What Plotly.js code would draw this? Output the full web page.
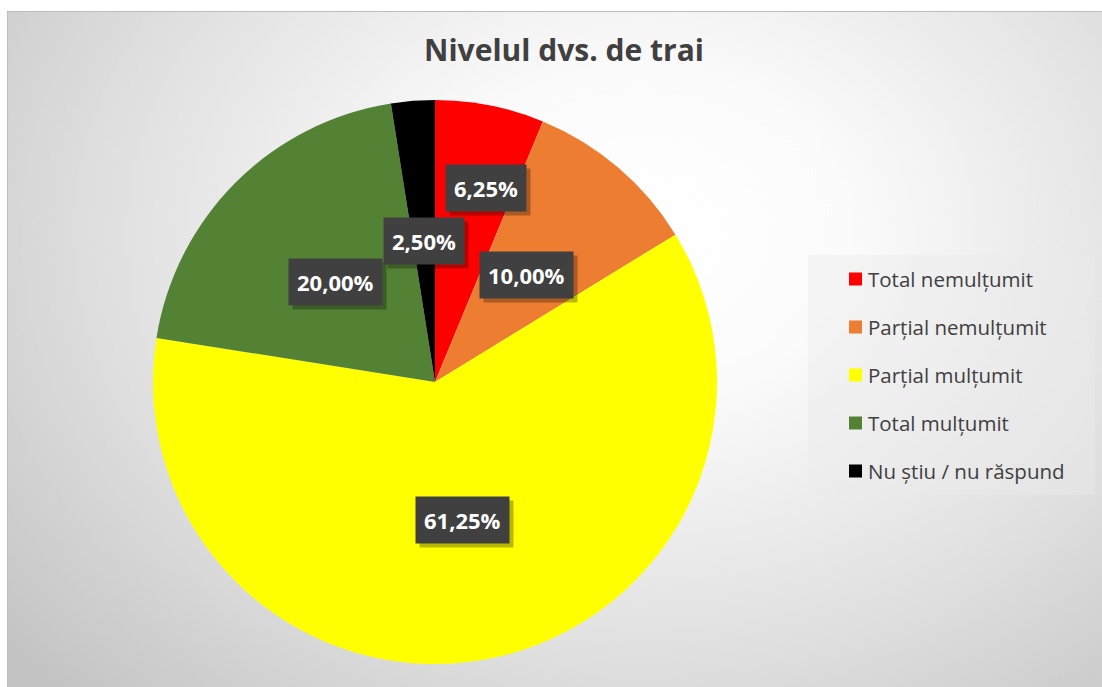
<!DOCTYPE html>
<html>
<head>
<meta charset="utf-8">
<script src="https://cdn.plot.ly/plotly-3.0.1.min.js"></script>
<style>
  html, body { margin: 0; padding: 0; background: #ffffff; }
  #bg { position: absolute; left: 7px; top: 11px; width: 1095px; height: 676px;
        background: radial-gradient(ellipse 75% 95% at 58% 33%, #ffffff 0%, #fbfbfb 25%, #e0e0e0 65%, #c4c4c4 100%);
        border-top: 1px solid #bdbdbd; border-left: 1px solid #bdbdbd; box-sizing: border-box; }
  #chart { position: absolute; left: 0; top: 0; width: 1102px; height: 687px; }
</style>
</head>
<body>
<div id="bg"></div>
<div id="chart"></div>
<script>
// ---- data ----
const chartTitle = 'Nivelul dvs. de trai';
const categories = ['Total nemulțumit', 'Parțial nemulțumit', 'Parțial mulțumit', 'Total mulțumit', 'Nu știu / nu răspund'];
const values = [6.25, 10.00, 61.25, 20.00, 2.50];
const colors = ['#FF0000', '#ED7D31', '#FFFF00', '#548235', '#000000'];

// ---- layout constants (pixels) ----
const W = 1102, H = 687;
const CX = 435, CY = 382, R = 282;
const labelRadius = [0.70, 0.50, 0.50, 0.50, 0.50];
const labelShift = [[12, 0], [0, 0], [0, 0], [0, 0], [0, 0]];

const total = values.reduce((a, b) => a + b, 0);
const fmt = v => v.toFixed(2).replace('.', ',') + '%';

const trace = {
  type: 'pie',
  labels: categories,
  values: values,
  sort: false,
  direction: 'clockwise',
  rotation: 0,
  marker: { colors: colors, line: { width: 0 } },
  textinfo: 'none',
  hoverinfo: 'none',
  showlegend: false,
  domain: { x: [(CX - R) / W, (CX + R) / W], y: [(H - CY - R) / H, (H - CY + R) / H] }
};

const annotations = [];
const shapes = [];
let cum = 0;
values.forEach((v, i) => {
  const mid = (cum + v / 2) / total * 2 * Math.PI;
  cum += v;
  const r = R * labelRadius[i];
  const px = CX + r * Math.sin(mid) + labelShift[i][0];
  const py = CY - r * Math.cos(mid) + labelShift[i][1];
  const base = {
    x: px / W, y: 1 - py / H, xref: 'paper', yref: 'paper',
    xanchor: 'center', yanchor: 'middle', showarrow: false,
    text: fmt(v), borderpad: 8,
    font: { family: '"Open Sans", sans-serif', size: 22, weight: 'bold', color: '#ffffff' }
  };
  // shadow
  annotations.push(Object.assign({}, base, {
    bgcolor: 'rgba(0,0,0,0.28)', xshift: 4, yshift: -4,
    font: Object.assign({}, base.font, { color: 'rgba(0,0,0,0)' })
  }));
  annotations.push(Object.assign({}, base, { bgcolor: '#404040' }));
});

// legend (drawn manually for exact spacing)
shapes.push({ type: 'rect', xref: 'paper', yref: 'paper',
  x0: 808 / W, x1: 1095 / W, y0: 1 - 495 / H, y1: 1 - 255 / H,
  fillcolor: 'rgba(235,235,235,0.45)', line: { width: 0 }, layer: 'below' });
categories.forEach((c, i) => {
  const y = 279 + i * 48;
  shapes.push({ type: 'rect', xref: 'paper', yref: 'paper',
    x0: 849 / W, x1: 862 / W, y0: 1 - (y + 6.5) / H, y1: 1 - (y - 6.5) / H,
    fillcolor: colors[i], line: { width: 0 } });
  annotations.push({ x: 866 / W, y: 1 - y / H, xref: 'paper', yref: 'paper',
    xanchor: 'left', yanchor: 'middle', showarrow: false, text: c,
    font: { family: '"Open Sans", sans-serif', size: 20.5, color: '#404040' } });
});

const layout = {
  width: W, height: H,
  margin: { l: 0, r: 0, t: 0, b: 0 },
  paper_bgcolor: 'rgba(0,0,0,0)',
  plot_bgcolor: 'rgba(0,0,0,0)',
  showlegend: false,
  title: { text: '<b>' + chartTitle + '</b>', x: 564 / W, xanchor: 'center', y: 1 - 50 / H, yanchor: 'middle',
           font: { family: '"Open Sans", "DejaVu Sans", sans-serif', size: 30, color: '#404040' } },
  annotations: annotations,
  shapes: shapes
};

Plotly.newPlot('chart', [trace], layout, { staticPlot: true, displayModeBar: false });
</script>
</body>
</html>
